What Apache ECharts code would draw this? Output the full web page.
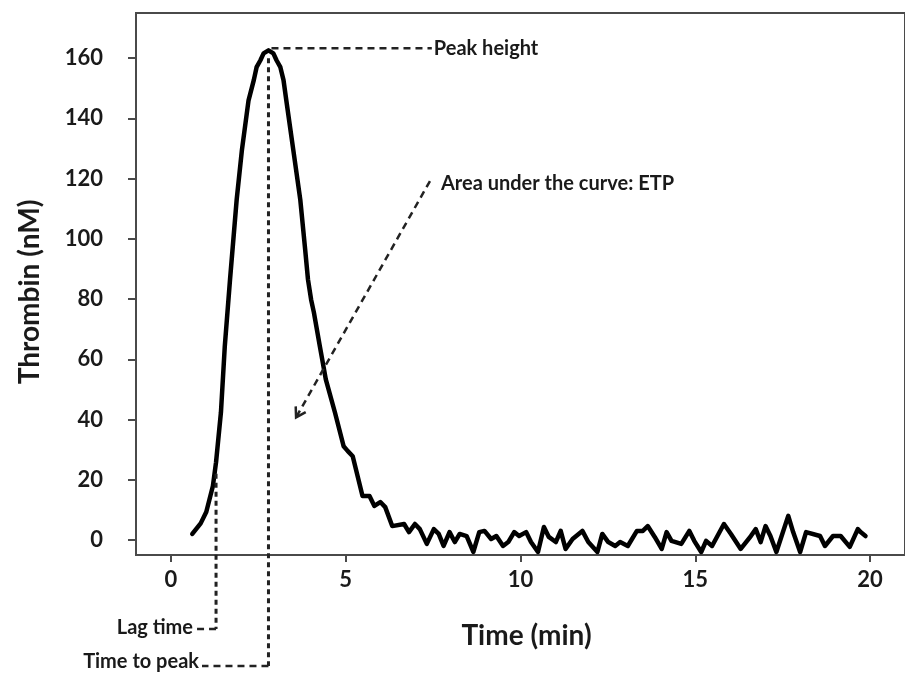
<!DOCTYPE html>
<html>
<head>
<meta charset="utf-8">
<script src="https://cdn.jsdelivr.net/npm/echarts@6/dist/echarts.min.js"></script>
<style>
html,body{margin:0;padding:0;background:#fff;}
#chart{width:905px;height:673px;}
</style>
</head>
<body>
<div id="chart"></div>
<script>
// ---- data ----
const timeMin = [0.61, 0.85, 1.01, 1.20, 1.29, 1.43, 1.54, 1.69, 1.88, 2.03, 2.22, 2.37, 2.45, 2.56, 2.65, 2.79, 2.93, 3.02, 3.13, 3.22, 3.30, 3.50, 3.70, 3.84, 3.92, 4.01, 4.09, 4.26, 4.43, 4.69, 4.94, 5.06, 5.20, 5.48, 5.68, 5.82, 5.99, 6.13, 6.33, 6.67, 6.81, 6.98, 7.12, 7.32, 7.52, 7.66, 7.80, 7.97, 8.12, 8.26, 8.46, 8.65, 8.82, 8.97, 9.16, 9.31, 9.50, 9.65, 9.82, 9.96, 10.16, 10.30, 10.50, 10.67, 10.81, 11.01, 11.15, 11.29, 11.49, 11.77, 11.94, 12.20, 12.34, 12.51, 12.71, 12.85, 13.07, 13.33, 13.50, 13.64, 13.84, 14.04, 14.18, 14.32, 14.60, 14.83, 14.97, 15.17, 15.31, 15.48, 15.82, 16.02, 16.30, 16.59, 16.73, 16.87, 17.01, 17.15, 17.32, 17.66, 17.80, 18.00, 18.17, 18.57, 18.71, 18.94, 19.16, 19.42, 19.65, 19.73, 19.87];
const thrombinNM = [2.0, 5.5, 9.3, 17.9, 25.8, 42.4, 64.3, 86.5, 113, 129.5, 146, 152.7, 157, 159.3, 161.6, 162.6, 161.6, 159.3, 157, 152.7, 146, 129.5, 113, 96.4, 86.5, 79.8, 75.5, 64.3, 53.3, 42.4, 31.1, 29.5, 27.8, 14.6, 14.6, 11.3, 12.6, 10.9, 4.6, 5.3, 2.6, 5.3, 3.6, -1.3, 3.6, 2.0, -2.0, 2.6, -0.7, 2.0, 1.3, -4.0, 2.6, 3.0, 0.3, 1.3, -2.0, -0.7, 2.6, 1.3, 2.6, -0.7, -4.0, 4.3, 1.0, -0.7, 3.0, -3.0, 0.3, 3.0, -0.7, -4.0, 2.0, -0.7, -2.0, -0.7, -2.0, 3.0, 3.0, 4.6, 1.0, -3.0, 2.6, -0.3, -1.3, 3.0, -0.3, -4.0, -0.3, -2.0, 5.3, 2.0, -3.0, 1.3, 3.6, -0.7, 4.6, 1.3, -4.0, 8.0, 2.6, -4.0, 2.6, 1.3, -2.0, 1.3, 1.3, -2.3, 3.6, 2.6, 1.3];
const xTicks = [0, 5, 10, 15, 20];
const yTicks = [0, 20, 40, 60, 80, 100, 120, 140, 160];
const xTitle = 'Time (min)';
const yTitle = 'Thrombin (nM)';
// annotations (data coordinates)
const peakTime = 2.79, peakHeight = 162.6;
const lagTime = 1.29, lagValue = 22;
const peakLabel = 'Peak height', peakLabelTime = 7.52;
const lagLabel = 'Lag time';
const ttpLabel = 'Time to peak';
const etpLabel = 'Area under the curve: ETP';
const etpFrom = [7.41, 119.2], etpTo = [3.58, 40.7];

const FONT = 'Lato, "Open Sans", sans-serif';
const chart = echarts.init(document.getElementById('chart'), null, {renderer: 'canvas'});
const data = timeMin.map((t, i) => [t, thrombinNM[i]]);

chart.setOption({
  animation: false,
  backgroundColor: '#fff',
  grid: {left: 136, right: -8, top: 13, bottom: 118, show: true, borderColor: '#4a4a4a', borderWidth: 2, backgroundColor: 'transparent'},
  xAxis: {
    type: 'value', min: -1, max: 21,
    name: xTitle, nameLocation: 'middle', nameGap: 67,
    nameTextStyle: {fontFamily: FONT, fontWeight: 'bold', fontSize: 28, color: '#1a1a1a', padding: [0, 0, 0, 12]},
    axisLine: {show: true, onZero: false, lineStyle: {color: '#4a4a4a', width: 2}},
    axisTick: {show: true, customValues: xTicks, length: 7, lineStyle: {color: '#4a4a4a', width: 2}},
    axisLabel: {customValues: xTicks, fontFamily: FONT, fontWeight: 'bold', fontSize: 22, color: '#1a1a1a', margin: 14},
    splitLine: {show: false}
  },
  yAxis: {
    type: 'value', min: -5, max: 175,
    name: yTitle, nameLocation: 'middle', nameGap: 92, nameRotate: 90,
    nameTextStyle: {fontFamily: FONT, fontWeight: 'bold', fontSize: 28, color: '#1a1a1a', padding: [0, 16, 0, 0]},
    axisLine: {show: true, onZero: false, lineStyle: {color: '#4a4a4a', width: 2}},
    axisTick: {show: true, customValues: yTicks, length: 8, lineStyle: {color: '#4a4a4a', width: 2}},
    axisLabel: {customValues: yTicks, fontFamily: FONT, fontWeight: 'bold', fontSize: 22, color: '#1a1a1a', margin: 33},
    splitLine: {show: false}
  },
  series: [{
    type: 'line', data: data, showSymbol: false, smooth: false,
    lineStyle: {color: '#000', width: 4.5, join: 'round', cap: 'round'}
  }]
});

function px(p) { return chart.convertToPixel({xAxisIndex: 0, yAxisIndex: 0}, p); }
const pk = px([peakTime, peakHeight]);
const lg = px([lagTime, lagValue]);
const pl = px([peakLabelTime, peakHeight]);
const ef = px(etpFrom), et = px(etpTo);
const dash = {stroke: '#222', lineWidth: 2.5, lineDash: [7, 5]};
const dot = {stroke: '#222', lineWidth: 3, lineDash: [5, 4]};
const txt = {fontFamily: FONT, fontWeight: 'bold', fontSize: 20, fill: '#1a1a1a'};
// arrowhead
const dx = et[0] - ef[0], dy = et[1] - ef[1];
const L = Math.hypot(dx, dy), ux = dx / L, uy = dy / L;
function wing(a) {
  const c = Math.cos(a), s = Math.sin(a);
  const wx = -(ux * c - uy * s), wy = -(ux * s + uy * c);
  return [et[0] + wx * 11, et[1] + wy * 11];
}
const ttpY = 666, lagY = 629;
chart.setOption({
  graphic: [
    {type: 'polyline', shape: {points: [[pk[0] + 3, pk[1] - 2], [pl[0] - 2, pk[1] - 2]]}, style: dash, z: 10},
    {type: 'text', x: pl[0], y: pk[1] - 2, style: Object.assign({text: peakLabel, align: 'left', verticalAlign: 'middle'}, txt), z: 10},
    {type: 'polyline', shape: {points: [[pk[0], pk[1] + 8], [pk[0], ttpY]]}, style: dot, z: 10},
    {type: 'polyline', shape: {points: [[pk[0], ttpY], [202, ttpY]]}, style: dash, z: 10},
    {type: 'text', x: 199, y: ttpY - 4, style: Object.assign({text: ttpLabel, align: 'right', verticalAlign: 'middle'}, txt), z: 10},
    {type: 'polyline', shape: {points: [[lg[0], lg[1]], [lg[0], lagY]]}, style: dot, z: 10},
    {type: 'polyline', shape: {points: [[lg[0], lagY], [196, lagY]]}, style: dash, z: 10},
    {type: 'text', x: 193, y: lagY - 1, style: Object.assign({text: lagLabel, align: 'right', verticalAlign: 'middle'}, txt), z: 10},
    {type: 'polyline', shape: {points: [ef, et]}, style: dash, z: 10},
    {type: 'polyline', shape: {points: [wing(0.55), et, wing(-0.55)]}, style: {stroke: '#222', lineWidth: 2.5}, z: 10},
    {type: 'text', x: ef[0] + 11, y: ef[1] + 3, style: Object.assign({text: etpLabel, align: 'left', verticalAlign: 'middle'}, txt), z: 10}
  ]
});
</script>
</body>
</html>
